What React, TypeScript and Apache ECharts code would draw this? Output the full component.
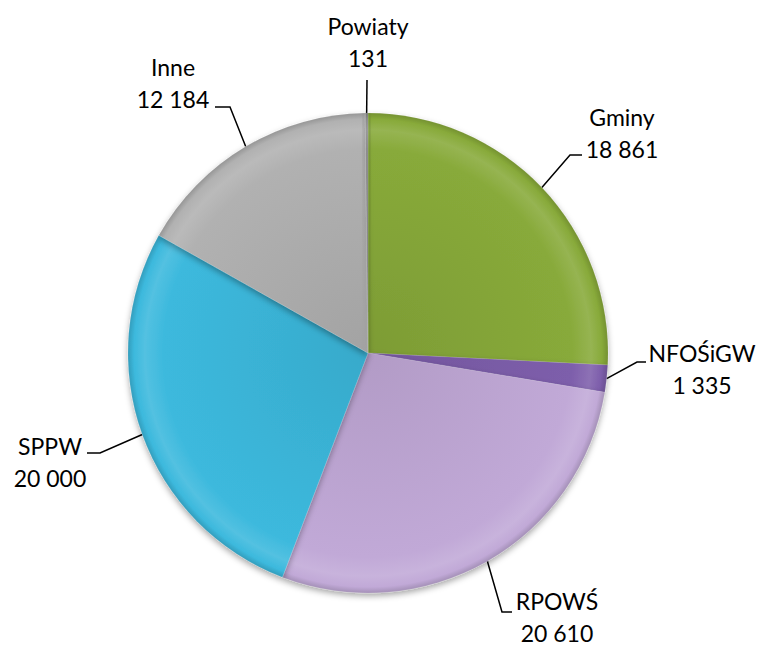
import React, { useEffect, useRef } from "react";
import * as echarts from "echarts";

const categories = ["Gminy", "NFOŚiGW", "RPOWŚ", "SPPW", "Inne", "Powiaty"];
const values = [18861, 1335, 20610, 20000, 12184, 131];
const baseColors = ["#88aa3a", "#7d5eab", "#c1a9d7", "#3cb9dd", "#b1b1b1", "#8a8a8a"];

// label layout: text block centre, elbow point, end point of leader line
const labelCenters = [
  [622, 133],
  [702, 369],
  [557, 617],
  [50, 462],
  [173, 83],
  [368, 42],
];
const labelElbows = [
  [570, 155],
  [637, 362],
  [502, 612],
  [100, 453],
  [230, 107],
  [367, 80],
];
const labelEnds = [
  [582, 155],
  [646, 362],
  [512, 612],
  [87, 453],
  [215, 107],
  [367, 80],
];

const CX = 368;
const CY = 353;
const R = 240;

function fmt(v: number): string {
  return String(v).replace(/\B(?=(\d{3})+(?!\d))/g, " ");
}

function shade(hex: string, f: number): string {
  const n = parseInt(hex.slice(1), 16);
  let r = (n >> 16) & 255, g = (n >> 8) & 255, b = n & 255;
  if (f < 1) {
    r = Math.round(r * f); g = Math.round(g * f); b = Math.round(b * f);
  } else {
    const t = f - 1;
    r = Math.round(r + (255 - r) * t); g = Math.round(g + (255 - g) * t); b = Math.round(b + (255 - b) * t);
  }
  return `rgb(${r},${g},${b})`;
}

function gradient(hex: string) {
  return {
    type: "radial",
    x: CX,
    y: CY,
    r: R,
    global: true,
    colorStops: [
      { offset: 0, color: shade(hex, 0.92) },
      { offset: 0.85, color: shade(hex, 1.0) },
      { offset: 0.93, color: shade(hex, 1.12) },
      { offset: 0.975, color: shade(hex, 1.0) },
      { offset: 1, color: shade(hex, 0.85) },
    ],
  };
}

export default function App() {
  const ref = useRef<HTMLDivElement>(null);
  useEffect(() => {
    document.body.style.margin = "0";
    const chart = echarts.init(ref.current!, undefined, { renderer: "svg" });
    const data = categories.map((name, i) => ({
      name,
      value: values[i],
      itemStyle: { color: gradient(baseColors[i]) as any },
    }));
    chart.setOption({
      animation: false,
      backgroundColor: "#ffffff",
      series: [
        {
          type: "pie",
          center: [CX, CY],
          radius: [0, R],
          startAngle: 90,
          clockwise: true,
          data,
          itemStyle: {
            borderColor: "rgba(255,255,255,0.2)",
            borderWidth: 0.5,
            shadowColor: "rgba(0,0,0,0.35)",
            shadowBlur: 6,
            shadowOffsetY: 3,
          },
          label: {
            show: true,
            position: "outside",
            formatter: (p: any) => `${p.name}\n${fmt(p.value)}`,
            fontFamily: "Lato, 'Liberation Sans', sans-serif",
            fontSize: 23,
            lineHeight: 32,
            color: "#000000",
            align: "center",
          },
          labelLine: {
            show: true,
            length: 20,
            length2: 10,
            lineStyle: { color: "#000000", width: 1.5 },
          },
          labelLayout: (params: any) => {
            const i = params.dataIndex;
            const anchor = params.labelLinePoints ? params.labelLinePoints[0] : labelElbows[i];
            return {
              x: labelCenters[i][0],
              y: labelCenters[i][1],
              align: "center",
              verticalAlign: "middle",
              labelLinePoints: [anchor, labelElbows[i], labelEnds[i]],
            };
          },
          emphasis: { disabled: true },
        },
      ],
    });
    return () => chart.dispose();
  }, []);
  return (
    <div
      ref={ref}
      style={{ position: "absolute", left: 0, top: 0, width: 759, height: 648 }}
    />
  );
}
